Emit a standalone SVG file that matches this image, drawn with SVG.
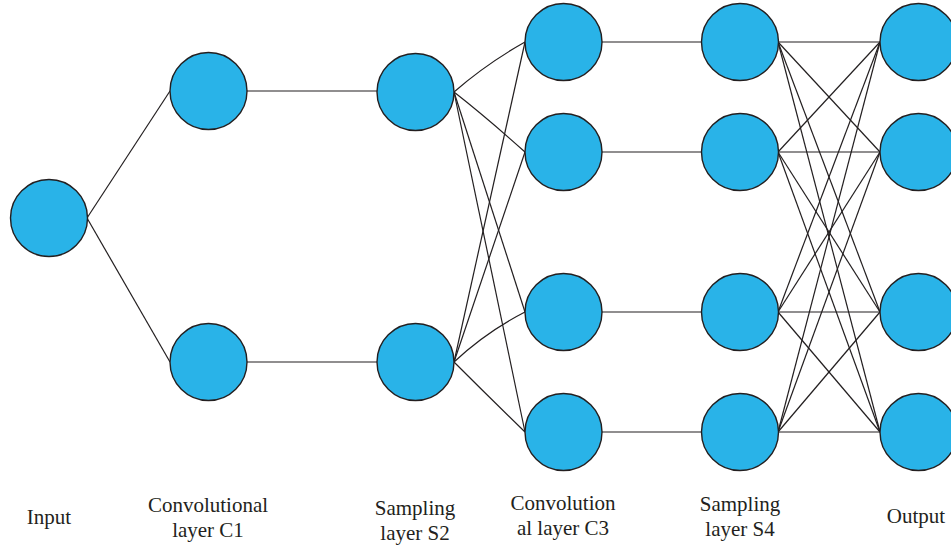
<svg xmlns="http://www.w3.org/2000/svg" width="951" height="548" viewBox="0 0 951 548">
<style>
.n{fill:#29B3E8;stroke:#231F20;stroke-width:1.4}
.e line,.e path{stroke:#231F20;stroke-width:1.2;fill:none}
.t{font-family:"Liberation Serif",serif;font-size:21px;fill:#231F20;text-anchor:middle}
</style>
<rect width="951" height="548" fill="#fff"/>
<g class="e" id="connectors">
<line x1="87" y1="218" x2="170" y2="91"/>
<line x1="87" y1="218" x2="170" y2="362"/>
<line x1="247" y1="91" x2="377" y2="91"/>
<line x1="247" y1="362" x2="377" y2="362"/>
<path d="M454,92 Q486,64 525,42"/>
<path d="M454,92 Q486,117 525,152"/>
<line x1="454" y1="92" x2="525" y2="312"/>
<line x1="454" y1="92" x2="525" y2="432"/>
<line x1="454" y1="362" x2="525" y2="42"/>
<line x1="454" y1="362" x2="525" y2="152"/>
<path d="M454,362 Q486,332 525,312"/>
<path d="M454,362 Q488,396 525,432"/>
<line x1="602" y1="42" x2="702" y2="42"/>
<line x1="602" y1="152" x2="702" y2="152"/>
<line x1="602" y1="312" x2="702" y2="312"/>
<line x1="602" y1="432" x2="702" y2="432"/>
<line x1="778" y1="42" x2="880" y2="42"/>
<line x1="778" y1="42" x2="880" y2="152"/>
<line x1="778" y1="42" x2="880" y2="312"/>
<line x1="778" y1="42" x2="880" y2="432"/>
<line x1="778" y1="152" x2="880" y2="42"/>
<line x1="778" y1="152" x2="880" y2="152"/>
<line x1="778" y1="152" x2="880" y2="312"/>
<line x1="778" y1="152" x2="880" y2="432"/>
<line x1="778" y1="312" x2="880" y2="42"/>
<line x1="778" y1="312" x2="880" y2="152"/>
<line x1="778" y1="312" x2="880" y2="312"/>
<line x1="778" y1="312" x2="880" y2="432"/>
<line x1="778" y1="432" x2="880" y2="42"/>
<line x1="778" y1="432" x2="880" y2="152"/>
<line x1="778" y1="432" x2="880" y2="312"/>
<line x1="778" y1="432" x2="880" y2="432"/>
</g>
<g id="input"><circle class="n" cx="49" cy="218" r="38.5"/></g>
<g id="c1a"><circle class="n" cx="208.5" cy="91" r="38.5"/></g>
<g id="c1b"><circle class="n" cx="208.5" cy="362" r="38.5"/></g>
<g id="s2a"><circle class="n" cx="415.5" cy="92" r="38.5"/></g>
<g id="s2b"><circle class="n" cx="415.5" cy="362" r="38.5"/></g>
<g id="c3a"><circle class="n" cx="563.5" cy="42" r="38.5"/></g>
<g id="c3b"><circle class="n" cx="563.5" cy="152" r="38.5"/></g>
<g id="c3c"><circle class="n" cx="563.5" cy="312" r="38.5"/></g>
<g id="c3d"><circle class="n" cx="563.5" cy="432" r="38.5"/></g>
<g id="s4a"><circle class="n" cx="740" cy="42" r="38.5"/></g>
<g id="s4b"><circle class="n" cx="740" cy="152" r="38.5"/></g>
<g id="s4c"><circle class="n" cx="740" cy="312" r="38.5"/></g>
<g id="s4d"><circle class="n" cx="740" cy="432" r="38.5"/></g>
<g id="outa"><circle class="n" cx="918.5" cy="42" r="38.5"/></g>
<g id="outb"><circle class="n" cx="918.5" cy="152" r="38.5"/></g>
<g id="outc"><circle class="n" cx="918.5" cy="312" r="38.5"/></g>
<g id="outd"><circle class="n" cx="918.5" cy="432" r="38.5"/></g>
<g id="labels">
<text class="t" x="49" y="524">Input</text>
<text class="t" x="208" y="512">Convolutional</text>
<text class="t" x="208" y="537">layer C1</text>
<text class="t" x="415" y="515">Sampling</text>
<text class="t" x="415" y="540">layer S2</text>
<text class="t" x="563" y="510">Convolution</text>
<text class="t" x="563" y="535">al layer C3</text>
<text class="t" x="740" y="511">Sampling</text>
<text class="t" x="740" y="536">layer S4</text>
<text class="t" x="916" y="523">Output</text>
</g>
</svg>
